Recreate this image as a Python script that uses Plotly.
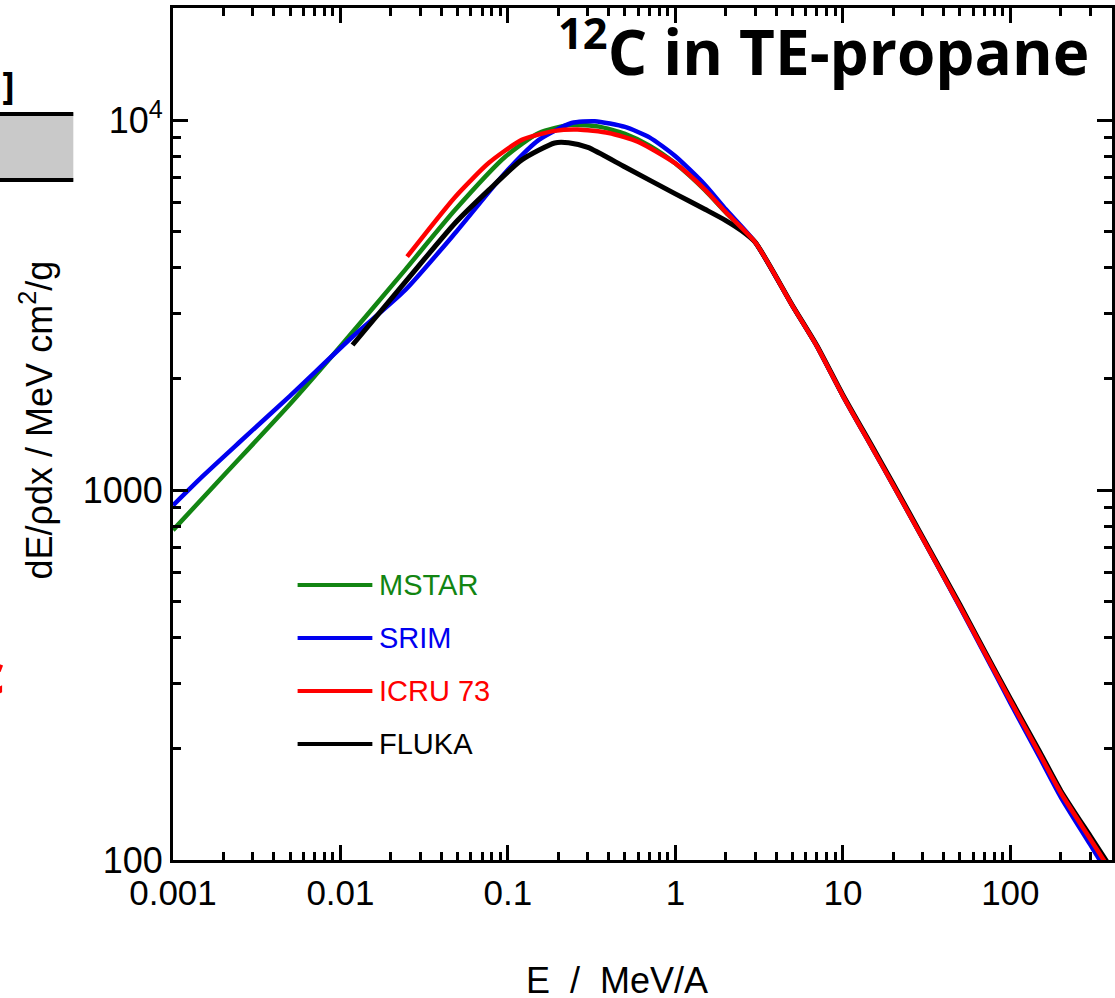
import plotly.graph_objects as go

# ---------------- data ----------------
mstar_E = [0.001, 0.002, 0.005, 0.01, 0.0244, 0.0484, 0.096, 0.153, 0.24, 0.35, 0.5, 0.7, 1.0, 1.5, 2.0,
           3.0, 5.0, 7.0, 10.0, 15.0, 20.0, 30.0, 50.0, 70.0, 100.0, 150.0, 200.0, 300.0, 400.0]
mstar_S = [780, 1094, 1710, 2450, 3950, 5730, 7960, 9250, 9730, 9620, 9200, 8550, 7650, 6480, 5640,
           4680, 3150, 2450, 1800, 1300, 1030, 740, 485, 365, 270, 193, 152, 114, 93]

srim_E = [0.001, 0.0015, 0.0025, 0.005, 0.0118, 0.0244, 0.0484, 0.096, 0.153, 0.24, 0.33, 0.5, 0.7, 1.0, 1.5, 2.0,
          3.0, 5.0, 7.0, 10.0, 15.0, 20.0, 30.0, 50.0, 70.0, 100.0, 150.0, 200.0, 300.0, 400.0]
srim_S = [910, 1090, 1350, 1800, 2600, 3480, 4960, 7210, 8860, 9840, 9950, 9600, 9000, 8000, 6700, 5750,
          4680, 3150, 2450, 1800, 1300, 1030, 740, 483, 362, 266, 189, 148, 110, 89]

icru_E = [0.025, 0.0484, 0.077, 0.121, 0.19, 0.26, 0.4, 0.6, 1.0, 1.5, 2.0,
          3.0, 5.0, 7.0, 10.0, 15.0, 20.0, 30.0, 50.0, 70.0, 100.0, 150.0, 200.0, 300.0, 400.0]
icru_S = [4280, 6210, 7680, 8860, 9370, 9450, 9250, 8750, 7650, 6500, 5650,
          4680, 3150, 2450, 1800, 1300, 1030, 740, 485, 365, 270, 193, 152, 114, 93]

fluka_E = [0.0118, 0.0244, 0.0484, 0.077, 0.121, 0.19, 0.23, 0.3, 0.5, 1.0, 1.5, 2.0, 2.5,
           3.0, 5.0, 7.0, 10.0, 15.0, 20.0, 30.0, 50.0, 70.0, 100.0, 150.0, 200.0, 300.0, 400.0]
fluka_S = [2470, 3660, 5280, 6490, 7820, 8690, 8700, 8450, 7480, 6330, 5750, 5360, 5020,
           4680, 3160, 2460, 1810, 1310, 1040, 745, 490, 368, 273, 196, 154, 116, 95]

series_names = ["MSTAR", "SRIM", "ICRU 73", "FLUKA"]
series_colors = ["#128512", "#0000f0", "#ff0000", "#000000"]

x_tick_vals = [0.001, 0.01, 0.1, 1, 10, 100]
x_tick_text = ["0.001", "0.01", "0.1", "1", "10", "100"]
y_tick_vals = [100, 1000, 10000]
y_tick_text = ["100", "1000", "10<sup>4</sup>"]

# ---------------- layout geometry ----------------
W, H = 1115, 998
L, R, T, B = 173, 1115, 8, 860


def px(xp):
    return (xp - L) / (R - L)


def py(yp):
    return (B - yp) / (B - T)


x_minor = [m * 10.0 ** k for k in range(-3, 3) for m in range(2, 10)]
y_minor = [m * 10.0 ** k for k in range(2, 5) for m in range(2, 10) if m * 10.0 ** k < 20000]

fig = go.Figure()

curves = [(mstar_E, mstar_S, 0), (srim_E, srim_S, 1), (fluka_E, fluka_S, 3), (icru_E, icru_S, 2)]
for E, S, i in curves:
    fig.add_trace(go.Scatter(
        x=E, y=S, mode="lines", name=series_names[i],
        line=dict(color=series_colors[i], width=5 if i == 3 else 4.5, shape="spline", smoothing=0.6),
        showlegend=False,
    ))

axis_common = dict(
    type="log", showgrid=False, zeroline=False, showline=True, linecolor="black", linewidth=3,
    mirror="allticks", ticks="inside", ticklen=15, tickwidth=3, tickcolor="black",
    tickmode="array",
    minor=dict(ticks="inside", ticklen=8, tickwidth=2.5, tickcolor="black", tickmode="array"),
)

fig.update_layout(
    width=W, height=H,
    margin=dict(l=L, r=W - R, t=T, b=H - B, pad=0),
    paper_bgcolor="white", plot_bgcolor="white",
    font=dict(family="Liberation Sans, Arial, sans-serif", color="black"),
    xaxis=dict(**axis_common, range=[-3, 2.607], tickvals=x_tick_vals, ticktext=x_tick_text,
               tickfont=dict(size=35)),
    yaxis=dict(**axis_common, range=[2, 4.304], tickvals=y_tick_vals, ticktext=y_tick_text,
               tickfont=dict(size=36)),
)
fig.update_xaxes(minor_tickvals=x_minor)
fig.update_yaxes(minor_tickvals=y_minor)

ann = []
# axis titles
ann.append(dict(text="dE/\u03c1dx / MeV cm<sup>2</sup>/g", textangle=-90, x=px(36), y=py(420),
                xref="paper", yref="paper", showarrow=False, xanchor="center", yanchor="middle",
                font=dict(size=36, color="black")))
ann.append(dict(text="E\u00a0\u00a0/\u00a0\u00a0MeV/A", x=px(618), y=py(980),
                xref="paper", yref="paper", showarrow=False, xanchor="center", yanchor="middle",
                font=dict(size=36, color="black")))
# panel title
ann.append(dict(text="<b><sup>12</sup>C in TE-propane</b>", x=px(1094), y=py(48),
                xref="paper", yref="paper", showarrow=False, xanchor="right", yanchor="middle",
                font=dict(size=62, color="black", family="Open Sans, sans-serif")))

# manual legend
leg_y = [585, 638, 691, 744]
shapes = []
for i, yy in enumerate(leg_y):
    shapes.append(dict(type="line", xref="paper", yref="paper", x0=px(298), x1=px(373),
                       y0=py(yy), y1=py(yy), line=dict(color=series_colors[i], width=4)))
    ann.append(dict(text=series_names[i], x=px(378), y=py(yy), xref="paper", yref="paper",
                    showarrow=False, xanchor="left", yanchor="middle",
                    font=dict(size=29, color=series_colors[i])))

# fragments of the neighbouring slide content on the left edge
shapes.append(dict(type="rect", xref="paper", yref="paper", x0=px(-10), x1=px(73),
                   y0=py(181), y1=py(113), fillcolor="#c9c9c9", line=dict(width=0), layer="above"))
shapes.append(dict(type="line", xref="paper", yref="paper", x0=px(-10), x1=px(73),
                   y0=py(114), y1=py(114), line=dict(color="black", width=4)))
shapes.append(dict(type="line", xref="paper", yref="paper", x0=px(-10), x1=px(73),
                   y0=py(180), y1=py(180), line=dict(color="black", width=4)))
ann.append(dict(text="<b>m]</b>", x=px(16), y=py(84), xref="paper", yref="paper",
                showarrow=False, xanchor="right", yanchor="middle",
                font=dict(size=38, color="black", family="Open Sans, sans-serif")))
ann.append(dict(text="<b>c</b>", x=px(6), y=py(672), xref="paper", yref="paper",
                showarrow=False, xanchor="right", yanchor="middle",
                font=dict(size=56, color="#ff0000", family="Open Sans, sans-serif")))

fig.update_layout(annotations=ann, shapes=shapes)

fig.write_html("out.html")
